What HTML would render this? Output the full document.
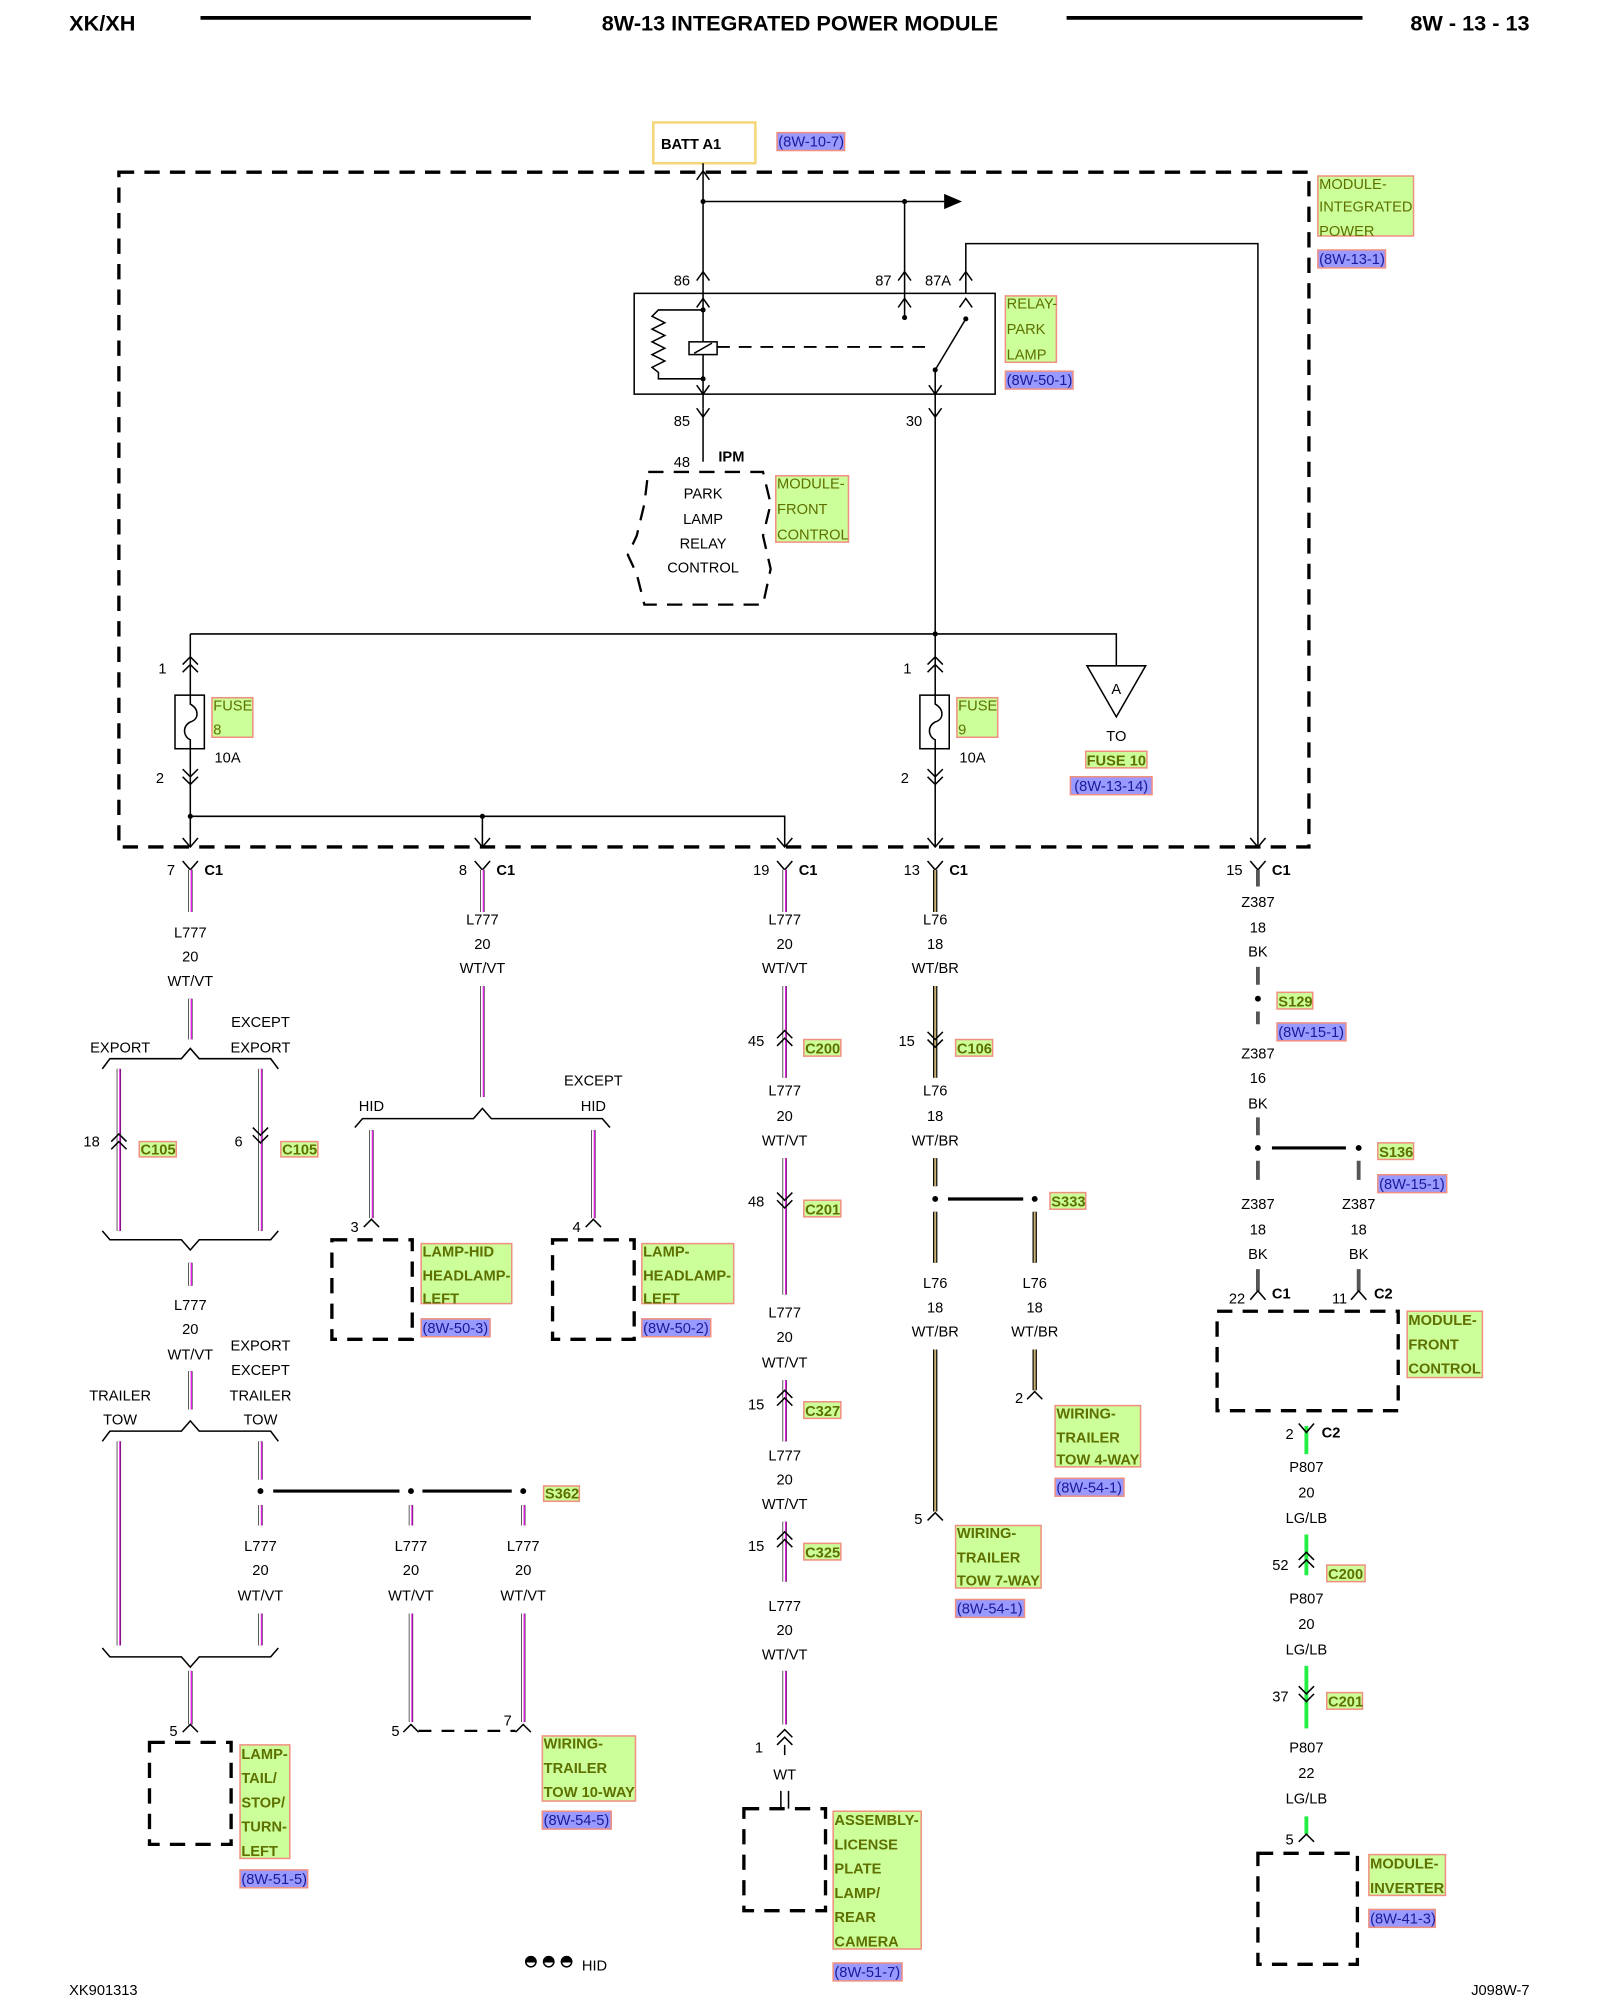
<!DOCTYPE html>
<html><head><meta charset="utf-8"><style>
html,body{margin:0;padding:0;background:#fff}
svg{display:block}
text{font-family:"Liberation Sans",sans-serif;font-size:11.5px;fill:#000}
.m{text-anchor:middle}
.e{text-anchor:end}
.b{font-weight:bold}
.g{fill:#5d7000}
.gb{fill:#5d7000;font-weight:bold}
.p{fill:#1a1a9a}
.lr{fill:#ccff99;stroke:#f09080;stroke-width:1.2}
.pr{fill:#9999ff;stroke:#f09080;stroke-width:1.2}
.w{stroke:#000;stroke-width:1.2;fill:none}
.ck{stroke:#000;stroke-width:1.2;fill:none}
.dash{stroke:#000;stroke-width:2.6;fill:none;stroke-dasharray:12 8}
</style></head><body>
<svg width="1600" height="2000" viewBox="0 0 1254 1568" xmlns="http://www.w3.org/2000/svg">
<!-- header -->
<text x="54" y="24" class="b" style="font-size:17px">XK/XH</text>
<line x1="157" y1="14" x2="416" y2="14" stroke="#000" stroke-width="3"/>
<text x="627" y="24" class="b m" style="font-size:17px">8W-13 INTEGRATED POWER MODULE</text>
<line x1="836" y1="14" x2="1068" y2="14" stroke="#000" stroke-width="3"/>
<text x="1199" y="24" class="b e" style="font-size:17px">8W - 13 - 13</text>

<!-- BATT -->
<rect x="512" y="96" width="80" height="32" fill="#fff" stroke="#f5d77a" stroke-width="2"/>
<text x="518" y="117" class="b">BATT A1</text>
<rect x="609" y="104" width="53" height="14" class="pr"/><text x="610" y="115" class="p">(8W-10-7)</text>

<!-- module box -->
<rect x="93" y="135" width="933" height="529" class="dash"/>
<rect x="1033" y="138" width="75" height="47" class="lr"/>
<text x="1034" y="148" class="g">MODULE-</text><text x="1034" y="166" class="g">INTEGRATED</text><text x="1034" y="185" class="g">POWER</text>
<rect x="1033" y="196" width="53" height="14" class="pr"/><text x="1034" y="207" class="p">(8W-13-1)</text>

<!-- top wiring -->
<path class="w" d="M551 128 V320 M551 158 H740 M709 158 V250 M757 230 V191 H986 V664 M733 290 V497"/>
<path d="M740 152 L754 158 L740 164 Z" fill="#000"/>
<path class="ck" d="M546 141 L551 134 L556 141 M546 220 L551 213 L556 220 M704 220 L709 213 L714 220 M752 220 L757 213 L762 220 M546 241 L551 234 L556 241 M704 241 L709 234 L714 241 M752 241 L757 234 L762 241 M546 302 L551 309 L556 302 M728 302 L733 309 L738 302 M546 320 L551 327 L556 320 M728 320 L733 327 L738 320"/>
<circle cx="551" cy="158" r="2" /><circle cx="709" cy="158" r="2"/>
<text x="528" y="224">86</text><text x="686" y="224">87</text><text x="725" y="224">87A</text>
<rect x="497" y="230" width="283" height="79" fill="none" stroke="#000" stroke-width="1.2"/>
<path class="w" d="M551 243 H516 L511 248 L521 253 L511 258 L521 263 L511 268 L521 273 L511 278 L521 283 L511 288 L516 292 V297 H551"/>
<circle cx="551" cy="243" r="2"/><circle cx="551" cy="297" r="2"/>
<rect x="540" y="268" width="22" height="10" fill="#fff" stroke="#000" stroke-width="1.2"/>
<path class="w" d="M544 277 L558 269"/>
<path d="M562 272 H732" stroke="#000" stroke-width="1.5" stroke-dasharray="10 7"/>
<path class="w" d="M733 290 L757 250"/>
<circle cx="709" cy="249" r="2"/><circle cx="757" cy="250" r="2"/><circle cx="733" cy="290" r="2"/>
<rect x="788" y="232" width="40" height="52" class="lr"/>
<text x="789" y="242" class="g">RELAY-</text><text x="789" y="262" class="g">PARK</text><text x="789" y="282" class="g">LAMP</text>
<rect x="788" y="291" width="53" height="14" class="pr"/><text x="789" y="302" class="p">(8W-50-1)</text>
<text x="528" y="334">85</text><text x="710" y="334">30</text>
<path class="w" d="M551 320 V362"/>
<text x="528" y="366">48</text><text x="563" y="362" class="b">IPM</text>
<path d="M508 370 H598 L604 395 L598 420 L604 446 L598 474 H505 L499 450 L492 435 L499 420 L505 395 Z" fill="none" stroke="#000" stroke-width="1.8" stroke-dasharray="12 8"/>
<text x="551" y="391" class="m">PARK</text><text x="551" y="411" class="m">LAMP</text><text x="551" y="430" class="m">RELAY</text><text x="551" y="449" class="m">CONTROL</text>
<rect x="608" y="373" width="57" height="52" class="lr"/>
<text x="609" y="383" class="g">MODULE-</text><text x="609" y="403" class="g">FRONT</text><text x="609" y="423" class="g">CONTROL</text>

<!-- fuse bus -->
<path class="w" d="M149 497 H875 V522 M149 497 V664 M149 640 H615 V664 M378 640 V664 M733 497 V664"/>
<circle cx="733" cy="497" r="2"/><circle cx="149" cy="640" r="2"/><circle cx="378" cy="640" r="2"/>
<path d="M852 522 H898 L875 562 Z" fill="#fff" stroke="#000" stroke-width="1.2"/>
<text x="875" y="544" class="m">A</text>
<text x="875" y="581" class="m">TO</text>
<rect x="851" y="589" width="48" height="13" class="lr"/><text x="875" y="600" class="m gb">FUSE 10</text>
<rect x="839" y="609" width="64" height="14" class="pr"/><text x="871" y="620" class="m p">(8W-13-14)</text>
<!-- fuse 8 -->
<path class="ck" d="M143 521 L149 515 L155 521 M143 527 L149 521 L155 527 M143 603 L149 609 L155 603 M143 609 L149 615 L155 609"/>
<rect x="137" y="545" width="23" height="42" fill="#fff" stroke="#000" stroke-width="1.2"/>
<path class="w" d="M149 545 V552 C156 556 156 564 149 566 C142 570 144 578 149 580 V587"/>
<text x="124" y="528">1</text><text x="122" y="614">2</text><text x="168" y="598">10A</text>
<rect x="166" y="547" width="32" height="31" class="lr"/><text x="167" y="557" class="g">FUSE</text><text x="167" y="576" class="g">8</text>
<!-- fuse 9 -->
<path class="ck" d="M727 521 L733 515 L739 521 M727 527 L733 521 L739 527 M727 603 L733 609 L739 603 M727 609 L733 615 L739 609"/>
<rect x="721" y="545" width="23" height="42" fill="#fff" stroke="#000" stroke-width="1.2"/>
<path class="w" d="M733 545 V552 C740 556 740 564 733 566 C726 570 728 578 733 580 V587"/>
<text x="708" y="528">1</text><text x="706" y="614">2</text><text x="752" y="598">10A</text>
<rect x="750" y="547" width="32" height="31" class="lr"/><text x="751" y="557" class="g">FUSE</text><text x="751" y="576" class="g">9</text>
<!-- into-box arrows -->
<path class="ck" d="M143 657 L149 664 L155 657 M372 657 L378 664 L384 657 M609 657 L615 664 L621 657 M727 657 L733 664 L739 657 M980 657 L986 664 L992 657"/>

<!-- C1 connectors -->
<path class="ck" d="M143 675 L149 682 L155 675 M372 675 L378 682 L384 675 M609 675 L615 682 L621 675 M727 675 L733 682 L739 675 M980 675 L986 682 L992 675"/>
<text x="137" y="686" class="e">7</text><text x="160" y="686" class="b">C1</text>
<text x="366" y="686" class="e">8</text><text x="389" y="686" class="b">C1</text>
<text x="603" y="686" class="e">19</text><text x="626" y="686" class="b">C1</text>
<text x="721" y="686" class="e">13</text><text x="744" y="686" class="b">C1</text>
<text x="974" y="686" class="e">15</text><text x="997" y="686" class="b">C1</text>

<!-- violet wires -->
<path stroke="#000" stroke-width="3.4" fill="none" d="M149 682V715 M149 783V815 M149 990V1008 M149 1075V1105 M149 1310V1352 M93 838V965 M93 1130V1290 M204 838V965 M204 1130V1160 M204 1180V1196 M204 1265V1290 M322 1265V1350 M410 1265V1350 M322 1180V1196 M410 1180V1196 M378 682V715 M378 773V860 M291 886V955 M465 886V955 M615 682V715 M615 773V845 M615 908V1015 M615 1082V1130 M615 1193V1240 M615 1310V1352"/>
<path stroke="#fff" stroke-width="1.8" fill="none" transform="translate(-0.3 0)" d="M149 682V715 M149 783V815 M149 990V1008 M149 1075V1105 M149 1310V1352 M93 838V965 M93 1130V1290 M204 838V965 M204 1130V1160 M204 1180V1196 M204 1265V1290 M322 1265V1350 M410 1265V1350 M322 1180V1196 M410 1180V1196 M378 682V715 M378 773V860 M291 886V955 M465 886V955 M615 682V715 M615 773V845 M615 908V1015 M615 1082V1130 M615 1193V1240 M615 1310V1352"/>
<path stroke="#e020e0" stroke-width="1.1" fill="none" transform="translate(0.8 0)" d="M149 682V715 M149 783V815 M149 990V1008 M149 1075V1105 M149 1310V1352 M93 838V965 M93 1130V1290 M204 838V965 M204 1130V1160 M204 1180V1196 M204 1265V1290 M322 1265V1350 M410 1265V1350 M322 1180V1196 M410 1180V1196 M378 682V715 M378 773V860 M291 886V955 M465 886V955 M615 682V715 M615 773V845 M615 908V1015 M615 1082V1130 M615 1193V1240 M615 1310V1352"/>
<!-- brown wires -->
<path stroke="#000" stroke-width="3.4" fill="none" d="M733 682V715 M733 773V845 M733 908V930 M733 950V990 M733 1058V1185 M811 950V990 M811 1058V1090"/>
<path stroke="#c8b070" stroke-width="1.6" fill="none" d="M733 682V715 M733 773V845 M733 908V930 M733 950V990 M733 1058V1185 M811 950V990 M811 1058V1090"/>
<!-- black wires -->
<path stroke="#555" stroke-width="3" fill="none" d="M986 682V695 M986 758V772 M986 793V803 M986 876V890 M986 910V925 M1065 910V925 M986 995V1012 M1065 995V1012"/>
<!-- green wires -->
<path stroke="#22ee44" stroke-width="3" fill="none" d="M1024 1118V1140 M1024 1203V1235 M1024 1306V1355 M1024 1424V1438"/>

<!-- column 1 -->
<text x="149" y="735" class="m">L777</text><text x="149" y="754" class="m">20</text><text x="149" y="773" class="m">WT/VT</text>
<path class="w" d="M80 838 L86 830 H142 L149 822 L156 830 H212 L218 838"/>
<text x="94" y="825" class="m">EXPORT</text><text x="204" y="805" class="m">EXCEPT</text><text x="204" y="825" class="m">EXPORT</text>
<path class="ck" d="M87 895 L93 889 L99 895 M87 901 L93 895 L99 901 M198 884 L204 890 L210 884 M198 890 L204 896 L210 890"/>
<text x="78" y="899" class="e">18</text><text x="190" y="899" class="e">6</text>
<rect x="109" y="895" width="29" height="12" class="lr"/><text x="110" y="905" class="gb">C105</text>
<rect x="220" y="895" width="29" height="12" class="lr"/><text x="221" y="905" class="gb">C105</text>
<path class="w" d="M80 965 L86 972 H142 L149 980 L156 972 H212 L218 965"/>
<text x="149" y="1027" class="m">L777</text><text x="149" y="1046" class="m">20</text><text x="149" y="1066" class="m">WT/VT</text>
<text x="94" y="1098" class="m">TRAILER</text><text x="94" y="1117" class="m">TOW</text>
<text x="204" y="1059" class="m">EXPORT</text><text x="204" y="1078" class="m">EXCEPT</text><text x="204" y="1098" class="m">TRAILER</text><text x="204" y="1117" class="m">TOW</text>
<path class="w" d="M80 1130 L86 1122 H142 L149 1114 L156 1122 H212 L218 1130"/>
<path stroke="#000" stroke-width="2.5" d="M214 1169 H313 M331 1169 H401"/>
<circle cx="204" cy="1169" r="2.3"/><circle cx="322" cy="1169" r="2.3"/><circle cx="410" cy="1169" r="2.3"/>
<rect x="426" y="1165" width="28" height="12" class="lr"/><text x="427" y="1175" class="gb">S362</text>
<text x="204" y="1216" class="m">L777</text><text x="204" y="1235" class="m">20</text><text x="204" y="1255" class="m">WT/VT</text>
<text x="322" y="1216" class="m">L777</text><text x="322" y="1235" class="m">20</text><text x="322" y="1255" class="m">WT/VT</text>
<text x="410" y="1216" class="m">L777</text><text x="410" y="1235" class="m">20</text><text x="410" y="1255" class="m">WT/VT</text>
<path class="w" d="M80 1292 L86 1299 H142 L149 1307 L156 1299 H212 L218 1292"/>
<path class="ck" d="M143 1358 L149 1352 L155 1358 M316 1358 L322 1352 L328 1358 M404 1358 L410 1352 L416 1358"/>
<text x="139" y="1361" class="e">5</text><text x="313" y="1361" class="e">5</text><text x="401" y="1353" class="e">7</text>
<path stroke="#000" stroke-width="1.8" stroke-dasharray="10 8" d="M328 1357 H404"/>
<rect x="117" y="1366" width="64" height="80" class="dash"/>
<rect x="188" y="1368" width="39" height="89" class="lr"/>
<text x="189" y="1379" class="gb">LAMP-</text><text x="189" y="1398" class="gb">TAIL/</text><text x="189" y="1417" class="gb">STOP/</text><text x="189" y="1436" class="gb">TURN-</text><text x="189" y="1455" class="gb">LEFT</text>
<rect x="188" y="1466" width="53" height="14" class="pr"/><text x="189" y="1477" class="p">(8W-51-5)</text>
<rect x="425" y="1361" width="73" height="51" class="lr"/>
<text x="426" y="1371" class="gb">WIRING-</text><text x="426" y="1390" class="gb">TRAILER</text><text x="426" y="1409" class="gb">TOW 10-WAY</text>
<rect x="425" y="1420" width="54" height="14" class="pr"/><text x="426" y="1431" class="p">(8W-54-5)</text>

<!-- column 2 -->
<text x="378" y="725" class="m">L777</text><text x="378" y="744" class="m">20</text><text x="378" y="763" class="m">WT/VT</text>
<path class="w" d="M278 884 L284 877 H371 L378 869 L385 877 H472 L478 884"/>
<text x="291" y="871" class="m">HID</text><text x="465" y="851" class="m">EXCEPT</text><text x="465" y="871" class="m">HID</text>
<path class="ck" d="M285 962 L291 956 L297 962 M459 962 L465 956 L471 962"/>
<text x="281" y="966" class="e">3</text><text x="455" y="966" class="e">4</text>
<rect x="260" y="972" width="63" height="78" class="dash"/>
<rect x="433" y="972" width="64" height="78" class="dash"/>
<rect x="330" y="975" width="71" height="47" class="lr"/>
<text x="331" y="985" class="gb">LAMP-HID</text><text x="331" y="1004" class="gb">HEADLAMP-</text><text x="331" y="1022" class="gb">LEFT</text>
<rect x="330" y="1034" width="54" height="14" class="pr"/><text x="331" y="1045" class="p">(8W-50-3)</text>
<rect x="503" y="975" width="72" height="47" class="lr"/>
<text x="504" y="985" class="gb">LAMP-</text><text x="504" y="1004" class="gb">HEADLAMP-</text><text x="504" y="1022" class="gb">LEFT</text>
<rect x="503" y="1034" width="54" height="14" class="pr"/><text x="504" y="1045" class="p">(8W-50-2)</text>

<!-- column 3 -->
<text x="615" y="725" class="m">L777</text><text x="615" y="744" class="m">20</text><text x="615" y="763" class="m">WT/VT</text>
<path class="ck" d="M609 814 L615 808 L621 814 M609 820 L615 814 L621 820 M609 935 L615 941 L621 935 M609 941 L615 947 L621 941 M609 1096 L615 1090 L621 1096 M609 1102 L615 1096 L621 1102 M609 1207 L615 1201 L621 1207 M609 1213 L615 1207 L621 1213 M609 1362 L615 1356 L621 1362 M609 1368 L615 1362 L621 1368"/>
<text x="599" y="820" class="e">45</text><rect x="630" y="815" width="29" height="13" class="lr"/><text x="631" y="826" class="gb">C200</text>
<text x="615" y="859" class="m">L777</text><text x="615" y="879" class="m">20</text><text x="615" y="898" class="m">WT/VT</text>
<text x="599" y="946" class="e">48</text><rect x="630" y="941" width="29" height="13" class="lr"/><text x="631" y="952" class="gb">C201</text>
<text x="615" y="1033" class="m">L777</text><text x="615" y="1052" class="m">20</text><text x="615" y="1072" class="m">WT/VT</text>
<text x="599" y="1105" class="e">15</text><rect x="630" y="1099" width="29" height="13" class="lr"/><text x="631" y="1110" class="gb">C327</text>
<text x="615" y="1145" class="m">L777</text><text x="615" y="1164" class="m">20</text><text x="615" y="1183" class="m">WT/VT</text>
<text x="599" y="1216" class="e">15</text><rect x="630" y="1210" width="29" height="13" class="lr"/><text x="631" y="1221" class="gb">C325</text>
<text x="615" y="1263" class="m">L777</text><text x="615" y="1282" class="m">20</text><text x="615" y="1301" class="m">WT/VT</text>
<path class="w" d="M615 1368 V1376"/>
<text x="598" y="1374" class="e">1</text>
<text x="615" y="1395" class="m">WT</text>
<path stroke="#000" stroke-width="1.2" d="M612 1404 V1418 M618 1404 V1418"/>
<rect x="583" y="1418" width="64" height="80" class="dash"/>
<rect x="653" y="1420" width="69" height="108" class="lr"/>
<text x="654" y="1431" class="gb">ASSEMBLY-</text><text x="654" y="1450" class="gb">LICENSE</text><text x="654" y="1469" class="gb">PLATE</text><text x="654" y="1488" class="gb">LAMP/</text><text x="654" y="1507" class="gb">REAR</text><text x="654" y="1526" class="gb">CAMERA</text>
<rect x="653" y="1539" width="54" height="14" class="pr"/><text x="654" y="1550" class="p">(8W-51-7)</text>

<!-- column 4 -->
<text x="733" y="725" class="m">L76</text><text x="733" y="744" class="m">18</text><text x="733" y="763" class="m">WT/BR</text>
<path class="ck" d="M727 809 L733 815 L739 809 M727 815 L733 821 L739 815"/>
<text x="717" y="820" class="e">15</text><rect x="749" y="815" width="29" height="13" class="lr"/><text x="750" y="826" class="gb">C106</text>
<text x="733" y="859" class="m">L76</text><text x="733" y="879" class="m">18</text><text x="733" y="898" class="m">WT/BR</text>
<path stroke="#000" stroke-width="2.5" d="M743 940 H802"/>
<circle cx="733" cy="940" r="2.3"/><circle cx="811" cy="940" r="2.3"/>
<rect x="823" y="935" width="28" height="13" class="lr"/><text x="824" y="946" class="gb">S333</text>
<text x="733" y="1010" class="m">L76</text><text x="733" y="1029" class="m">18</text><text x="733" y="1048" class="m">WT/BR</text>
<text x="811" y="1010" class="m">L76</text><text x="811" y="1029" class="m">18</text><text x="811" y="1048" class="m">WT/BR</text>
<path class="ck" d="M805 1097 L811 1091 L817 1097 M727 1192 L733 1186 L739 1192"/>
<text x="802" y="1100" class="e">2</text><text x="723" y="1195" class="e">5</text>
<rect x="827" y="1102" width="67" height="48" class="lr"/>
<text x="828" y="1112" class="gb">WIRING-</text><text x="828" y="1131" class="gb">TRAILER</text><text x="828" y="1148" class="gb">TOW 4-WAY</text>
<rect x="827" y="1159" width="54" height="14" class="pr"/><text x="828" y="1170" class="p">(8W-54-1)</text>
<rect x="749" y="1196" width="67" height="49" class="lr"/>
<text x="750" y="1206" class="gb">WIRING-</text><text x="750" y="1225" class="gb">TRAILER</text><text x="750" y="1243" class="gb">TOW 7-WAY</text>
<rect x="749" y="1254" width="54" height="14" class="pr"/><text x="750" y="1265" class="p">(8W-54-1)</text>

<!-- column 5 -->
<text x="986" y="711" class="m">Z387</text><text x="986" y="731" class="m">18</text><text x="986" y="750" class="m">BK</text>
<circle cx="986" cy="783" r="2.3"/>
<rect x="1001" y="778" width="28" height="13" class="lr"/><text x="1002" y="789" class="gb">S129</text>
<rect x="1001" y="802" width="54" height="14" class="pr"/><text x="1002" y="813" class="p">(8W-15-1)</text>
<text x="986" y="830" class="m">Z387</text><text x="986" y="849" class="m">16</text><text x="986" y="869" class="m">BK</text>
<path stroke="#000" stroke-width="2.5" d="M997 900 H1055"/>
<circle cx="986" cy="900" r="2.3"/><circle cx="1065" cy="900" r="2.3"/>
<rect x="1080" y="896" width="28" height="13" class="lr"/><text x="1081" y="907" class="gb">S136</text>
<rect x="1080" y="921" width="54" height="14" class="pr"/><text x="1081" y="932" class="p">(8W-15-1)</text>
<text x="986" y="948" class="m">Z387</text><text x="986" y="968" class="m">18</text><text x="986" y="987" class="m">BK</text>
<text x="1065" y="948" class="m">Z387</text><text x="1065" y="968" class="m">18</text><text x="1065" y="987" class="m">BK</text>
<path class="ck" d="M980 1019 L986 1012 L992 1019 M1059 1019 L1065 1012 L1071 1019"/>
<text x="976" y="1022" class="e">22</text><text x="997" y="1018" class="b">C1</text>
<text x="1056" y="1022" class="e">11</text><text x="1077" y="1018" class="b">C2</text>
<rect x="954" y="1028" width="142" height="78" class="dash"/>
<rect x="1103" y="1028" width="59" height="52" class="lr"/>
<text x="1104" y="1039" class="gb">MODULE-</text><text x="1104" y="1058" class="gb">FRONT</text><text x="1104" y="1077" class="gb">CONTROL</text>
<path class="ck" d="M1018 1116 L1024 1123 L1030 1116"/>
<text x="1014" y="1128" class="e">2</text><text x="1036" y="1127" class="b">C2</text>
<text x="1024" y="1154" class="m">P807</text><text x="1024" y="1174" class="m">20</text><text x="1024" y="1194" class="m">LG/LB</text>
<path class="ck" d="M1018 1223 L1024 1217 L1030 1223 M1018 1229 L1024 1223 L1030 1229 M1018 1322 L1024 1328 L1030 1322 M1018 1328 L1024 1334 L1030 1328 M1018 1444 L1024 1438 L1030 1444"/>
<text x="1010" y="1231" class="e">52</text><rect x="1040" y="1227" width="30" height="13" class="lr"/><text x="1041" y="1238" class="gb">C200</text>
<text x="1024" y="1257" class="m">P807</text><text x="1024" y="1277" class="m">20</text><text x="1024" y="1297" class="m">LG/LB</text>
<text x="1010" y="1334" class="e">37</text><rect x="1040" y="1327" width="28" height="13" class="lr"/><text x="1041" y="1338" class="gb">C201</text>
<text x="1024" y="1374" class="m">P807</text><text x="1024" y="1394" class="m">22</text><text x="1024" y="1414" class="m">LG/LB</text>
<text x="1014" y="1446" class="e">5</text>
<rect x="986" y="1453" width="78" height="87" class="dash"/>
<rect x="1073" y="1454" width="60" height="32" class="lr"/>
<text x="1074" y="1465" class="gb">MODULE-</text><text x="1074" y="1484" class="gb">INVERTER</text>
<rect x="1073" y="1497" width="52" height="14" class="pr"/><text x="1074" y="1508" class="p">(8W-41-3)</text>

<!-- footer -->
<g stroke="#000" stroke-width="1.2">
<circle cx="416" cy="1538" r="4" fill="#fff"/><path d="M412 1538 A4 4 0 0 1 420 1538 Z" fill="#000"/>
<circle cx="430" cy="1538" r="4" fill="#fff"/><path d="M426 1538 A4 4 0 0 1 434 1538 Z" fill="#000"/>
<circle cx="444" cy="1538" r="4" fill="#fff"/><path d="M440 1538 A4 4 0 0 1 448 1538 Z" fill="#000"/>
</g>
<text x="456" y="1545">HID</text>
<text x="54" y="1564">XK901313</text>
<text x="1199" y="1564" class="e">J098W-7</text>
</svg>
</body></html>
